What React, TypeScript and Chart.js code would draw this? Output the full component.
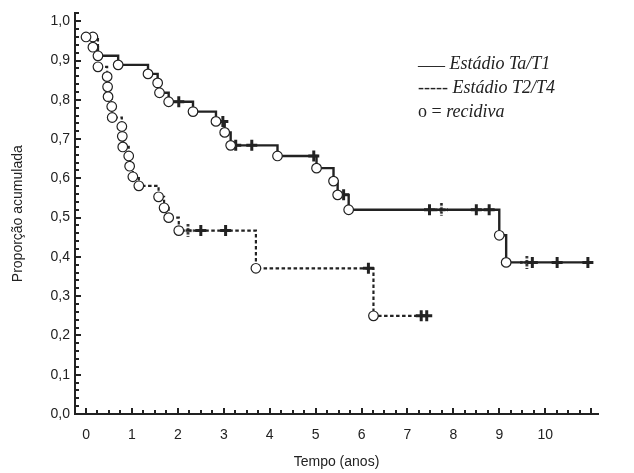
import React, { useEffect, useRef } from 'react';
import { Chart, registerables } from 'chart.js';

Chart.register(...registerables);

// Tick labels
const xTickLabels = [0, 1, 2, 3, 4, 5, 6, 7, 8, 9, 10];
const yTickLabels = [0, 0.1, 0.2, 0.3, 0.4, 0.5, 0.6, 0.7, 0.8, 0.9, 1.0];

// Estádio Ta/T1 (solid): times where the proportion changes, and the new proportion
const taStepTimes = [0, 0.15, 0.26, 0.7, 1.35, 1.56, 1.6, 1.8, 2.33, 2.83, 3.02, 3.15, 4.17, 5.02, 5.39, 5.48, 5.72, 9.0, 9.15];
const taStepValues = [0.96, 0.934, 0.912, 0.889, 0.866, 0.843, 0.818, 0.795, 0.77, 0.745, 0.717, 0.684, 0.657, 0.626, 0.593, 0.558, 0.52, 0.455, 0.386];
const taEndTime = 11.04;
const taCensorTimes = [2.02, 2.98, 3.26, 3.61, 4.96, 5.61, 7.48, 8.5, 8.78, 9.72, 10.26, 10.93];
const taCensorDashedTimes = [7.74, 9.6];

// Estádio T2/T4 (dashed)
const t2StepTimes = [0.15, 0.26, 0.46, 0.47, 0.48, 0.56, 0.57, 0.78, 0.79, 0.8, 0.93, 0.95, 1.02, 1.15, 1.58, 1.7, 1.8, 2.02, 3.7, 6.26];
const t2StepValues = [0.96, 0.884, 0.859, 0.833, 0.808, 0.783, 0.755, 0.732, 0.707, 0.68, 0.657, 0.631, 0.604, 0.581, 0.553, 0.525, 0.5, 0.467, 0.371, 0.25];
const t2EndTime = 7.45;
const t2CensorTimes = [2.5, 3.04, 6.15, 7.3, 7.42];
const t2CensorDashedTimes = [2.22];

const INK = '#222222';
const SANS = '"Liberation Sans", Arial, sans-serif';
const SERIF = '"Liberation Serif", "Times New Roman", serif';

function levelAt(times: number[], values: number[], t: number) {
  let v = values[0];
  for (let i = 0; i < times.length; i++) if (times[i] <= t) v = values[i];
  return v;
}

function stepPoints(times: number[], values: number[], end: number) {
  const pts = times.map((t, i) => ({ x: t, y: values[i] }));
  pts.push({ x: end, y: values[values.length - 1] });
  return pts;
}

function makeDashedCross() {
  const c = document.createElement('canvas');
  c.width = 13;
  c.height = 13;
  const g = c.getContext('2d')!;
  g.strokeStyle = INK;
  g.lineWidth = 2.6;
  g.setLineDash([2.5, 1.5]);
  g.beginPath();
  g.moveTo(6.5, 0);
  g.lineTo(6.5, 13);
  g.moveTo(0, 6.5);
  g.lineTo(13, 6.5);
  g.stroke();
  return c;
}

const tickPlugin = {
  id: 'innerTicks',
  beforeDatasetsDraw(chart: any) {
    const { ctx, chartArea, scales } = chart;
    const x = scales.x;
    const y = scales.y;
    ctx.save();
    ctx.strokeStyle = INK;
    ctx.lineWidth = 2;
    for (let k = 0; ; k++) {
      const v = k * 0.02;
      if (v > y.max + 1e-9) break;
      const py = Math.round(y.getPixelForValue(v));
      const len = k % 5 === 0 ? 6 : 4;
      ctx.beginPath();
      ctx.moveTo(chartArea.left, py);
      ctx.lineTo(chartArea.left + len, py);
      ctx.stroke();
    }
    const start = Math.ceil(x.min / 0.25);
    for (let k = start; ; k++) {
      const v = k * 0.25;
      if (v > x.max + 1e-9) break;
      const px = Math.round(x.getPixelForValue(v));
      const len = k % 4 === 0 ? 6 : 4;
      ctx.beginPath();
      ctx.moveTo(px, chartArea.bottom);
      ctx.lineTo(px, chartArea.bottom - len);
      ctx.stroke();
    }
    ctx.restore();
  },
};

const legendPlugin = {
  id: 'textLegend',
  afterDraw(chart: any) {
    const { ctx } = chart;
    ctx.save();
    ctx.fillStyle = INK;
    ctx.textBaseline = 'middle';
    ctx.textAlign = 'left';
    const x0 = 418;
    ctx.font = `18px ${SERIF}`;
    ctx.fillText('___', x0, 60);
    let w = ctx.measureText('___ ').width;
    ctx.font = `italic 18px ${SERIF}`;
    ctx.fillText('Estádio Ta/T1', x0 + w, 64);

    ctx.font = `18px ${SERIF}`;
    ctx.fillText('-----', x0, 88);
    w = ctx.measureText('----- ').width;
    ctx.font = `italic 18px ${SERIF}`;
    ctx.fillText('Estádio T2/T4', x0 + w, 88);

    ctx.font = `18px ${SERIF}`;
    ctx.fillText('o = ', x0, 112);
    w = ctx.measureText('o = ').width;
    ctx.font = `italic 18px ${SERIF}`;
    ctx.fillText('recidiva', x0 + w, 112);
    ctx.restore();
  },
};

export default function App() {
  const ref = useRef<HTMLCanvasElement | null>(null);

  useEffect(() => {
    document.body.style.margin = '0';
    const canvas = ref.current;
    if (!canvas) return;
    const dashedCross = makeDashedCross();

    const taLine = stepPoints(taStepTimes, taStepValues, taEndTime);
    const t2Line = stepPoints(t2StepTimes, t2StepValues, t2EndTime);
    const taEvents = taStepTimes.map((t, i) => ({ x: t, y: taStepValues[i] }));
    const t2Events = t2StepTimes.map((t, i) => ({ x: t, y: t2StepValues[i] }));
    const censor = (times: number[], st: number[], sv: number[]) =>
      times.map((t) => ({ x: t, y: levelAt(st, sv, t) }));

    const circleStyle = {
      showLine: false,
      pointStyle: 'circle',
      pointRadius: 4.8,
      pointBackgroundColor: '#ffffff',
      pointBorderColor: INK,
      pointBorderWidth: 1.2,
      order: 0,
    };
    const crossStyle = {
      showLine: false,
      pointStyle: 'cross',
      pointRadius: 5.5,
      pointBorderColor: INK,
      pointBorderWidth: 3,
      order: 1,
    };
    const dashCrossStyle = {
      showLine: false,
      pointStyle: dashedCross,
      pointRadius: 6,
      order: 1,
    };

    const tickFont = { family: SANS, size: 14 };

    const chart = new Chart(canvas, {
      type: 'line',
      data: {
        datasets: [
          { label: 'Ta/T1 recidiva', data: taEvents, ...circleStyle } as any,
          { label: 'T2/T4 recidiva', data: t2Events, ...circleStyle } as any,
          { label: 'Ta/T1 censura', data: censor(taCensorTimes, taStepTimes, taStepValues), ...crossStyle } as any,
          { label: 'T2/T4 censura', data: censor(t2CensorTimes, t2StepTimes, t2StepValues), ...crossStyle } as any,
          { label: 'Ta/T1 censura b', data: censor(taCensorDashedTimes, taStepTimes, taStepValues), ...dashCrossStyle } as any,
          { label: 'T2/T4 censura b', data: censor(t2CensorDashedTimes, t2StepTimes, t2StepValues), ...dashCrossStyle } as any,
          {
            label: 'Estádio Ta/T1',
            data: taLine,
            borderColor: INK,
            borderWidth: 2.4,
            pointRadius: 0,
            stepped: 'before',
            fill: false,
            order: 2,
          } as any,
          {
            label: 'Estádio T2/T4',
            data: t2Line,
            borderColor: INK,
            borderWidth: 2.2,
            borderDash: [3.5, 2.5],
            pointRadius: 0,
            stepped: 'before',
            fill: false,
            order: 2,
          } as any,
        ],
      },
      options: {
        animation: false,
        responsive: false,
        maintainAspectRatio: false,
        layout: { padding: { top: 9, right: 36, left: 0, bottom: 0 } },
        plugins: { legend: { display: false }, tooltip: { enabled: false } },
        scales: {
          x: {
            type: 'linear',
            min: -0.24,
            max: 11.15,
            afterBuildTicks: (s: any) => {
              s.ticks = xTickLabels.map((v) => ({ value: v }));
            },
            afterFit: (s: any) => {
              s.height = 59;
            },
            grid: { display: false, drawTicks: false },
            border: { display: true, color: INK, width: 2 },
            ticks: {
              autoSkip: false,
              maxRotation: 0,
              padding: 13,
              color: INK,
              font: tickFont,
              callback: (v: any) => String(v),
            },
            title: {
              display: true,
              text: 'Tempo (anos)',
              color: INK,
              font: { family: SANS, size: 14 },
              padding: { top: 0, bottom: 2 },
            },
          },
          y: {
            type: 'linear',
            min: 0,
            max: 1.02,
            afterBuildTicks: (s: any) => {
              s.ticks = yTickLabels.map((v) => ({ value: v }));
            },
            afterFit: (s: any) => {
              s.width = 75;
            },
            grid: { display: false, drawTicks: false },
            border: { display: true, color: INK, width: 2 },
            ticks: {
              autoSkip: false,
              padding: 5,
              color: INK,
              font: tickFont,
              callback: (v: any) => Number(v).toFixed(1).replace('.', ','),
            },
            title: {
              display: true,
              text: 'Proporção acumulada',
              color: INK,
              font: { family: SANS, size: 14 },
              padding: { top: 10, bottom: 0 },
            },
          },
        },
      },
      plugins: [tickPlugin, legendPlugin],
    });

    return () => chart.destroy();
  }, []);

  return (
    <div style={{ width: 634, height: 473 }}>
      <canvas ref={ref} width={634} height={473} style={{ display: 'block' }} />
    </div>
  );
}
